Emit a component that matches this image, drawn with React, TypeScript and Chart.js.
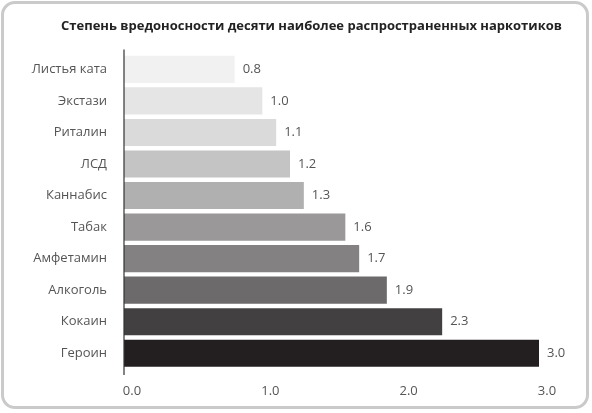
import { useEffect, useRef } from 'react';
import { Chart, registerables, Plugin } from 'chart.js';

Chart.register(...registerables);

const drugs = ['Листья ката', 'Экстази', 'Риталин', 'ЛСД', 'Каннабис', 'Табак', 'Амфетамин', 'Алкоголь', 'Кокаин', 'Героин'];
const harm = [0.8, 1.0, 1.1, 1.2, 1.3, 1.6, 1.7, 1.9, 2.3, 3.0];
const barColors = ['#f2f1f1', '#e6e5e5', '#dbdada', '#c5c4c4', '#b1b0b0', '#9a9898', '#838181', '#6c6a6a', '#434041', '#231f20'];
const title = 'Степень вредоносности десяти наиболее распространенных наркотиков';

const FONT = "'Open Sans', sans-serif";

// value text to the right of every bar
const valueLabels: Plugin<'bar'> = {
  id: 'valueLabels',
  afterDatasetsDraw(chart) {
    const ctx = chart.ctx;
    const meta = chart.getDatasetMeta(0);
    ctx.save();
    ctx.font = `13px ${FONT}`;
    ctx.fillStyle = '#555';
    ctx.textBaseline = 'middle';
    ctx.textAlign = 'left';
    meta.data.forEach((bar, i) => {
      ctx.fillText(harm[i].toFixed(1), bar.x + 8, bar.y);
    });
    ctx.restore();
  },
};

// vertical axis line, a bit longer than the plot area
const axisLine: Plugin<'bar'> = {
  id: 'axisLine',
  afterDatasetsDraw(chart) {
    const { ctx, chartArea } = chart;
    ctx.save();
    ctx.strokeStyle = '#333';
    ctx.lineWidth = 1.2;
    ctx.beginPath();
    ctx.moveTo(chartArea.left, chartArea.top - 4);
    ctx.lineTo(chartArea.left, chartArea.bottom + 6);
    ctx.stroke();
    ctx.restore();
  },
};

export default function App() {
  const canvasRef = useRef<HTMLCanvasElement>(null);
  const chartRef = useRef<Chart | null>(null);

  useEffect(() => {
    if (!canvasRef.current) return;
    if (chartRef.current) chartRef.current.destroy();

    chartRef.current = new Chart(canvasRef.current, {
      type: 'bar',
      data: {
        labels: drugs,
        datasets: [{
          data: harm,
          backgroundColor: barColors,
          borderWidth: 0,
          barPercentage: 0.86,
          categoryPercentage: 1,
        }],
      },
      options: {
        indexAxis: 'y',
        animation: false,
        responsive: true,
        maintainAspectRatio: false,
        layout: { padding: 0 },
        plugins: {
          legend: { display: false },
          tooltip: { enabled: false },
          title: {
            display: true,
            text: title,
            color: '#222',
            font: { family: FONT, size: 13, weight: 'bold' },
            padding: { top: 18, bottom: 20 },
          },
        },
        scales: {
          x: {
            min: 0,
            max: 3,
            grid: { display: false, drawTicks: false },
            border: { display: false },
            ticks: {
              stepSize: 1,
              padding: 14,
              labelOffset: 8,
              color: '#555',
              font: { family: FONT, size: 13 },
              callback: (v) => Number(v).toFixed(1),
            },
            afterFit: (s) => { s.height = 44; },
          },
          y: {
            grid: { display: false, drawTicks: false },
            border: { display: false },
            ticks: {
              padding: 17,
              color: '#555',
              font: { family: FONT, size: 13 },
            },
            afterFit: (s) => { s.width = 93; },
          },
          // empty right-hand box: keeps room for the value labels without shifting the title
          yRight: {
            type: 'category',
            position: 'right',
            grid: { display: false, drawTicks: false },
            border: { display: false },
            ticks: { display: false },
            afterFit: (s) => { s.width = 53; },
          },
        },
      },
      plugins: [valueLabels, axisLine],
    });

    return () => {
      if (chartRef.current) {
        chartRef.current.destroy();
        chartRef.current = null;
      }
    };
  }, []);

  return (
    <div style={{ position: 'fixed', left: 0, top: 0, width: 592, height: 413, background: '#fff' }}>
      <div
        style={{
          position: 'absolute', left: 1, top: 1, width: 588, height: 408,
          boxSizing: 'border-box', border: '3px solid #cacaca', borderRadius: 14,
        }}
      />
      <div style={{ position: 'absolute', left: 31, top: 0, width: 561, height: 413 }}>
        <canvas ref={canvasRef} />
      </div>
    </div>
  );
}
